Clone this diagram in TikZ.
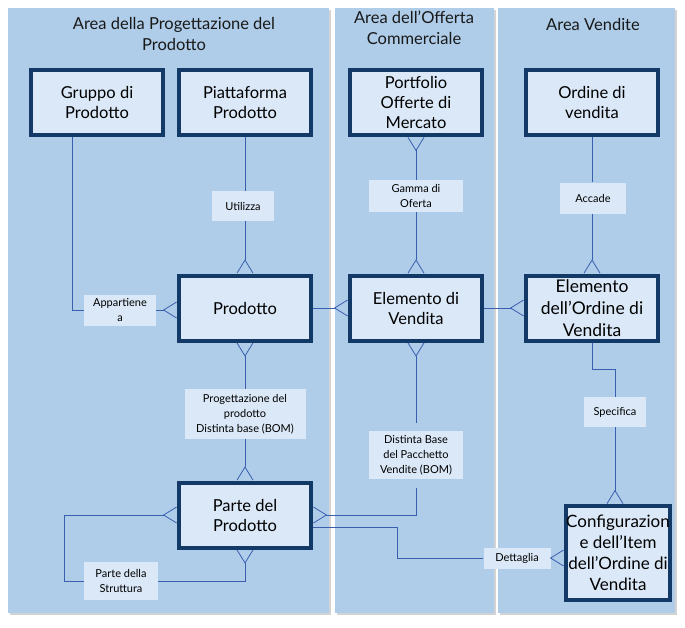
\documentclass[tikz,border=0pt]{standalone}
\usepackage{fontspec}
\setmainfont{Lato}
\usetikzlibrary{arrows.meta,shadows}
\definecolor{areafill}{RGB}{175,205,233}
\definecolor{boxfill}{RGB}{218,232,247}
\definecolor{boxline}{RGB}{19,58,102}
\definecolor{linkblue}{RGB}{58,95,175}
\begin{document}
\begin{tikzpicture}[
    x=1pt, y=-1pt,
    area/.style={fill=areafill, drop shadow={shadow xshift=2pt, shadow yshift=-2pt, opacity=.35}},
    areatitle/.style={align=center, font=\fontsize{16.5}{21}\selectfont, text=black!90},
    entity/.style={draw=boxline, line width=4pt, fill=boxfill, minimum width=132pt, minimum height=65pt, inner sep=1pt, align=center, font=\fontsize{16.5}{20}\selectfont},
    rel/.style={fill=boxfill, align=center, inner sep=0pt, font=\fontsize{11}{15}\selectfont},
    link/.style={draw=linkblue, line width=.8pt},
    crow end/.style={-{Straight Barb[reversed, length=13pt, width=16pt, line width=.8pt]}},
    crow start/.style={{Straight Barb[reversed, length=13pt, width=16pt, line width=.8pt]}-}
]
\useasboundingbox (0,0) rectangle (685,627);
\path[area] (8,8) rectangle (329,613);
\path[area] (335,8) rectangle (494,613);
\path[area] (498,8) rectangle (675,613);

\node[areatitle] (title1) at (174,34) {Area della Progettazione del\\Prodotto};
\node[areatitle] (title2) at (414,28) {Area dell’Offerta\\Commerciale};
\node[areatitle] (title3) at (593,24) {Area Vendite};

\node[entity] (gruppo) at (97,102.5) {Gruppo di\\Prodotto};
\node[entity] (piattaforma) at (245,102.5) {Piattaforma\\Prodotto};
\node[entity] (portfolio) at (416,102.5) {Portfolio\\Offerte di\\Mercato};
\node[entity] (ordine) at (592,102.5) {Ordine di\\vendita};
\node[entity] (prodotto) at (245,308) {Prodotto};
\node[entity] (elemento) at (416,308) {Elemento di\\Vendita};
\node[entity, font=\fontsize{17.5}{22}\selectfont] (elemordine) at (592,308) {Elemento\\dell’Ordine di\\Vendita};
\node[entity] (parte) at (245,515) {Parte del\\Prodotto};
\node[entity, minimum width=104pt, minimum height=94pt, inner sep=0pt, font=\fontsize{17}{21}\selectfont] (config) at (618,553) {Configurazion\\e dell’Item\\dell’Ordine di\\Vendita};

\node[rel, minimum width=62pt, minimum height=30pt] (utilizza) at (243,206) {Utilizza};
\node[rel, minimum width=94pt, minimum height=32pt] (gamma) at (416,196) {Gamma di\\Oferta};
\node[rel, minimum width=66pt, minimum height=31pt] (accade) at (593,198) {Accade};
\node[rel, minimum width=72pt, minimum height=31pt] (appartiene) at (120,310) {Appartiene\\a};
\node[rel, minimum width=121pt, minimum height=50pt] (progbom) at (245,414) {Progettazione del\\prodotto\\Distinta base (BOM)};
\node[rel, minimum width=94pt, minimum height=48pt] (pacchetto) at (416,455) {Distinta Base\\del Pacchetto\\Vendite (BOM)};
\node[rel, minimum width=62pt, minimum height=30pt] (specifica) at (615,412) {Specifica};
\node[rel, minimum width=74pt, minimum height=38pt] (struttura) at (121,581) {Parte della\\Struttura};
\node[rel, minimum width=67pt, minimum height=21pt] (dettaglia) at (517,558) {Dettaglia};

\draw[link] ([xshift=-25pt]gruppo.south) |- (appartiene.west);
\draw[link, crow end] (appartiene.east) -- (appartiene.east -| prodotto.west);
\draw[link] (piattaforma.south) -- (piattaforma.south |- utilizza.north);
\draw[link, crow end] (piattaforma.south |- utilizza.south) -- (prodotto.north);
\draw[link, crow start] (prodotto.south) -- (progbom.north);
\draw[link, crow end] (progbom.south) -- (parte.north);
\draw[link, crow end] (prodotto.east) -- (elemento.west);
\draw[link, crow start] (portfolio.south) -- (gamma.north);
\draw[link, crow end] (gamma.south) -- (elemento.north);
\draw[link, crow start] (elemento.south) -- ([yshift=8pt]pacchetto.north);
\draw[link, crow end] ([yshift=-9pt]pacchetto.south) |- (parte.east);
\draw[link] (ordine.south) -- (accade.north -| ordine.south);
\draw[link, crow end] (accade.south -| ordine.south) -- (elemordine.north);
\draw[link, crow end] (elemento.east) -- (elemordine.west);
\draw[link] (elemordine.south) -- ++(0,27) -| (specifica.north);
\draw[link, crow end] (specifica.south) -- (specifica.south |- config.north);
\draw[link] ([yshift=-12pt]parte.east) -- ++(84,0) |- (dettaglia.west);
\draw[link, crow end] (dettaglia.east) -- (dettaglia.east -| config.west);
\draw[link, crow start] (parte.west) -- ++(-113,0) |- (struttura.west);
\draw[link, crow end] (struttura.east) -| (parte.south);
\end{tikzpicture}
\end{document}
